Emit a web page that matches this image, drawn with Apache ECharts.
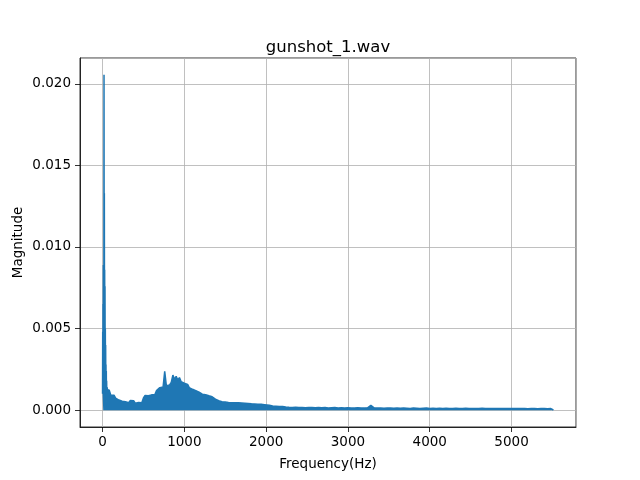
<!DOCTYPE html>
<html>
<head>
<meta charset="utf-8">
<title>gunshot_1.wav</title>
<script src="https://cdn.jsdelivr.net/npm/echarts/dist/echarts.min.js"></script>
<style>
  html, body { margin: 0; padding: 0; background: #fff; }
  #chart { width: 640px; height: 480px; }
</style>
</head>
<body>
<div id="chart"></div>
<script>
// low frequency spike (Hz / magnitude)
var spikeFreq = [0, 2, 4, 6, 8, 10, 12, 14, 16, 18, 20, 22, 24, 26, 28, 30, 32, 34, 36, 38, 40, 42, 44, 46, 48, 50, 54, 58, 62, 66, 70];
var spikeMag = [0.0010, 0.0048, 0.0012, 0.0065, 0.0030, 0.0089, 0.0041, 0.0084, 0.0062, 0.02055,
  0.0048, 0.0133, 0.0052, 0.0086, 0.0035, 0.0076, 0.0028, 0.0050, 0.0019, 0.0040,
  0.0015, 0.0028, 0.0009, 0.0024, 0.0006, 0.0018, 0.0004, 0.0014, 0.0002, 0.0013, 0.0003];

// the rest is a dense band sitting on zero; these are its top edge
// 80..2000 Hz every 20 Hz
var lowStart = 80;
var lowStep = 20;
var lowTop = [
  0.00125, 0.00093, 0.00088, 0.00092, 0.00074, 0.00078, 0.00062, 0.00066, 0.00055, 0.00060,
  0.00052, 0.00058, 0.00046, 0.00060, 0.00052, 0.00058, 0.00043, 0.00055, 0.00047, 0.00052,
  0.00046, 0.00075, 0.00090, 0.00096, 0.00088, 0.00100, 0.00094, 0.00102, 0.00096, 0.00120,
  0.00112, 0.00138, 0.00128, 0.00142, 0.00238, 0.00150, 0.00162, 0.00155, 0.00170, 0.00215,
  0.00190, 0.00207, 0.00185, 0.00200, 0.00175, 0.00178, 0.00165, 0.00162, 0.00158, 0.00138,
  0.00140, 0.00128, 0.00132, 0.00120, 0.00115, 0.00110, 0.00112, 0.00098, 0.00092, 0.00095,
  0.00085, 0.00088, 0.00080, 0.00082, 0.00075, 0.00068, 0.00062, 0.00058, 0.00060, 0.00052,
  0.00056, 0.00050, 0.00054, 0.00047, 0.00052, 0.00045, 0.00050, 0.00046, 0.00052, 0.00045,
  0.00049, 0.00044, 0.00050, 0.00043, 0.00046, 0.00041, 0.00044, 0.00039, 0.00042, 0.00038,
  0.00043, 0.00037, 0.00039, 0.00036, 0.00040, 0.00034, 0.00035
];
// 2040..5480 Hz every 40 Hz
var highStart = 2040;
var highStep = 40;
var highTop = [
  0.00030,
  0.00026, 0.00024, 0.00022, 0.00023, 0.00020, 0.00018, 0.00017, 0.00018, 0.00016, 0.00017,
  0.00015, 0.00016, 0.00017, 0.00015, 0.00016, 0.00015, 0.00016, 0.00014, 0.00015, 0.00016,
  0.00014, 0.00015, 0.00014, 0.00015, 0.00013, 0.00014, 0.00015, 0.00013, 0.00014, 0.00015,
  0.00030, 0.00014, 0.00013, 0.00014, 0.00012, 0.00013, 0.00014, 0.00012, 0.00013, 0.00012,
  0.00013, 0.00012, 0.00011, 0.00013, 0.00012, 0.00011, 0.00012, 0.00013, 0.00011, 0.00012,
  0.00011, 0.00012, 0.00011, 0.00012, 0.00010, 0.00011, 0.00012, 0.00010, 0.00011, 0.00012,
  0.00010, 0.00011, 0.00010, 0.00011, 0.00012, 0.00010, 0.00011, 0.00010, 0.00011, 0.00010,
  0.00011, 0.00010, 0.00011, 0.00010, 0.00011, 0.00010, 0.00011, 0.00010, 0.00009, 0.00010,
  0.00011, 0.00009, 0.00010, 0.00011, 0.00009, 0.00010
];
var bandEnd = 5512; // last bin, where the band drops back to zero

var pts = [];
for (var i = 0; i < spikeFreq.length; i++) {
  pts.push([spikeFreq[i], spikeMag[i]]);
}
for (var a = 0; a < lowTop.length; a++) {
  pts.push([lowStart + a * lowStep, lowTop[a]]);
}
for (var b = 0; b < highTop.length; b++) {
  pts.push([highStart + b * highStep, highTop[b]]);
}
pts.push([bandEnd, 0.00001]);

var font = 'DejaVu Sans';
var blue = '#1f77b4';
var chart = echarts.init(document.getElementById('chart'), null, { renderer: 'canvas' });
chart.setOption({
  animation: false,
  backgroundColor: '#fff',
  title: {
    text: 'gunshot_1.wav',
    left: 323,
    textAlign: 'center',
    top: 34,
    textStyle: { fontFamily: font, fontSize: 16.5, fontWeight: 'normal', color: '#000' }
  },
  grid: {
    left: 80, right: 64, top: 58, bottom: 53,
    show: true, borderColor: '#000', borderWidth: 0.8, backgroundColor: 'transparent'
  },
  xAxis: {
    type: 'value',
    min: -275.6,
    max: 5788,
    splitNumber: 5,
    name: 'Frequency(Hz)',
    nameLocation: 'middle',
    nameGap: 30,
    nameMoveOverlap: false,
    nameTextStyle: { fontFamily: font, fontSize: 13.5, color: '#000' },
    axisLine: { show: true, onZero: false, lineStyle: { color: '#000', width: 0.8 } },
    axisTick: { show: true, length: 5, lineStyle: { color: '#000', width: 0.8 } },
    axisLabel: {
      fontFamily: font, fontSize: 13.5, color: '#000', margin: 8,
      showMinLabel: false, showMaxLabel: false,
      formatter: function (v) { return String(v); }
    },
    splitLine: { show: true, lineStyle: { color: '#b0b0b0', width: 0.8 } }
  },
  yAxis: {
    type: 'value',
    min: -0.00103,
    max: 0.02158,
    splitNumber: 5,
    name: 'Magnitude',
    nameLocation: 'middle',
    nameGap: 55,
    nameMoveOverlap: false,
    nameTextStyle: { fontFamily: font, fontSize: 13.5, color: '#000' },
    axisLine: { show: true, onZero: false, lineStyle: { color: '#000', width: 0.8 } },
    axisTick: { show: true, length: 5, lineStyle: { color: '#000', width: 0.8 } },
    axisLabel: {
      fontFamily: font, fontSize: 13.5, color: '#000', margin: 9,
      showMinLabel: false, showMaxLabel: false,
      formatter: function (v) { return v.toFixed(3); }
    },
    splitLine: { show: true, lineStyle: { color: '#b0b0b0', width: 0.8 } }
  },
  series: [{
    type: 'line',
    data: pts,
    showSymbol: false,
    clip: true,
    lineStyle: { color: blue, width: 1.5 },
    itemStyle: { color: blue },
    areaStyle: { color: blue, opacity: 1, origin: 'auto' }
  }]
});
</script>
</body>
</html>
